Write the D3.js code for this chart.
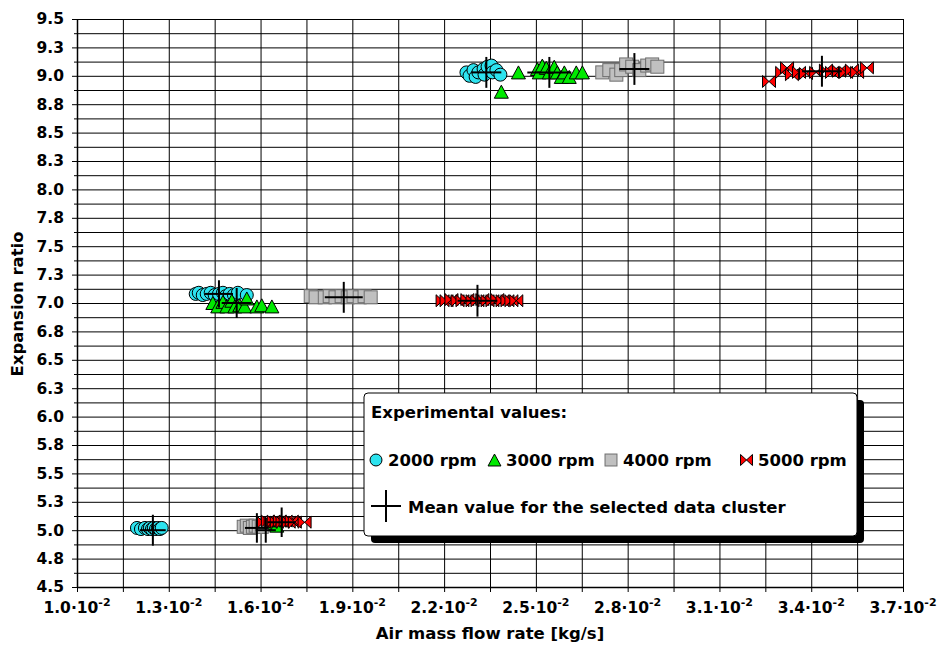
<!DOCTYPE html>
<html>
<head>
<meta charset="utf-8">
<script src="https://cdn.jsdelivr.net/npm/d3@7"></script>
<style>
  html, body { margin: 0; padding: 0; background: #fff; }
  svg { display: block; font-family: "DejaVu Sans", sans-serif; font-weight: bold; }
</style>
</head>
<body>
<svg id="chart" width="938" height="646"></svg>
<script>
// Axis ticks and labels
const xTickValues = [0.010, 0.013, 0.016, 0.019, 0.022, 0.025, 0.028, 0.031, 0.034, 0.037];
const xTickLabels = ["1.0", "1.3", "1.6", "1.9", "2.2", "2.5", "2.8", "3.1", "3.4", "3.7"];
const xTickExponent = "-2";
const yTickValues = [4.5, 4.75, 5.0, 5.25, 5.5, 5.75, 6.0, 6.25, 6.5, 6.75, 7.0, 7.25, 7.5, 7.75, 8.0, 8.25, 8.5, 8.75, 9.0, 9.25, 9.5];
const yTickLabels = ["4.5", "4.8", "5.0", "5.3", "5.5", "5.8", "6.0", "6.3", "6.5", "6.8", "7.0", "7.3", "7.5", "7.8", "8.0", "8.3", "8.5", "8.8", "9.0", "9.3", "9.5"];
const seriesNames = ["2000 rpm", "3000 rpm", "4000 rpm", "5000 rpm"];

// Measured points: [air mass flow rate (kg/s), expansion ratio]
const rpm2000 = [
  [0.01196, 5.02], [0.01209, 5.01], [0.01222, 5.02], [0.01232, 5.01], [0.01238, 5.02], [0.01245, 5.01],
  [0.01251, 5.02], [0.01258, 5.01], [0.01264, 5.02], [0.01271, 5.01], [0.01277, 5.02],
  [0.01388, 7.08], [0.01398, 7.09], [0.01411, 7.07], [0.01424, 7.08], [0.01437, 7.09], [0.01450, 7.07],
  [0.01464, 7.08], [0.01477, 7.09], [0.01486, 7.06], [0.01499, 7.08], [0.01513, 7.07], [0.01526, 7.09], [0.01555, 7.07],
  [0.02273, 9.03], [0.02283, 9.00], [0.02296, 9.05], [0.02303, 8.99], [0.02312, 9.03], [0.02329, 9.06],
  [0.02332, 9.01], [0.02342, 9.08], [0.02355, 9.09], [0.02358, 9.03], [0.02371, 9.05], [0.02384, 9.01]
];
const rpm3000 = [
  [0.01565, 5.03], [0.01584, 5.04], [0.01604, 5.06], [0.01624, 5.06], [0.01643, 5.06], [0.01653, 5.04],
  [0.01444, 7.00], [0.01460, 6.97], [0.01477, 7.01], [0.01490, 6.97], [0.01506, 7.02], [0.01516, 6.97],
  [0.01532, 6.98], [0.01548, 6.97], [0.01555, 7.04], [0.01588, 6.97], [0.01604, 6.98], [0.01637, 6.97],
  [0.02387, 8.86], [0.02443, 9.03], [0.02505, 9.06], [0.02511, 9.03], [0.02521, 9.09], [0.02534, 9.07],
  [0.02544, 9.03], [0.02560, 9.08], [0.02570, 9.03], [0.02583, 8.99], [0.02593, 9.03], [0.02609, 8.99],
  [0.02632, 9.03], [0.02652, 9.03]
];
const rpm4000 = [
  [0.01545, 5.03], [0.01555, 5.04], [0.01565, 5.02], [0.01575, 5.03], [0.01584, 5.04], [0.01594, 5.03], [0.01604, 5.03],
  [0.01764, 7.06], [0.01780, 7.05], [0.01810, 7.05], [0.01826, 7.06], [0.01845, 7.05], [0.01865, 7.06],
  [0.01885, 7.05], [0.01904, 7.06], [0.01924, 7.05], [0.01940, 7.06], [0.01960, 7.05],
  [0.02717, 9.03], [0.02740, 9.05], [0.02763, 9.01], [0.02779, 9.05], [0.02795, 9.10], [0.02815, 9.08],
  [0.02838, 9.05], [0.02864, 9.09], [0.02880, 9.10], [0.02897, 9.08]
];
const rpm5000 = [
  [0.01610, 5.07], [0.01624, 5.08], [0.01633, 5.07], [0.01643, 5.08], [0.01653, 5.07], [0.01663, 5.08],
  [0.01672, 5.07], [0.01682, 5.08], [0.01692, 5.07], [0.01702, 5.08], [0.01712, 5.07], [0.01744, 5.07],
  [0.02195, 7.02], [0.02208, 7.02], [0.02224, 7.03], [0.02244, 7.02], [0.02260, 7.02], [0.02276, 7.03],
  [0.02293, 7.02], [0.02309, 7.02], [0.02325, 7.03], [0.02342, 7.02], [0.02358, 7.02], [0.02374, 7.03],
  [0.02391, 7.02], [0.02407, 7.02], [0.02420, 7.02], [0.02436, 7.02],
  [0.03262, 8.95], [0.03305, 9.03], [0.03321, 9.07], [0.03337, 9.01], [0.03360, 9.03], [0.03383, 9.02],
  [0.03416, 9.03], [0.03448, 9.05], [0.03468, 9.03], [0.03491, 9.04], [0.03514, 9.03], [0.03533, 9.05],
  [0.03550, 9.03], [0.03582, 9.07]
];

// Cluster means: [flow rate, expansion ratio, half spread in flow rate, half spread in ratio]
const means2000 = [[0.01248, 5.00, 0.00042, 0.136], [0.01464, 7.08, 0.00046, 0.120], [0.02338, 9.03, 0.00049, 0.136]];
const means3000 = [[0.01617, 5.00, 0.00033, 0.110], [0.01522, 7.00, 0.00049, 0.132], [0.02544, 9.03, 0.00072, 0.136]];
const means4000 = [[0.01588, 5.02, 0.00039, 0.130], [0.01872, 7.05, 0.00062, 0.136], [0.02822, 9.06, 0.00049, 0.140]];
const means5000 = [[0.01669, 5.07, 0.00046, 0.130], [0.02309, 7.02, 0.00065, 0.140], [0.03435, 9.04, 0.00065, 0.136]];

const svg = d3.select("#chart");
const plot = { left: 77, right: 903, top: 19, bottom: 587 };

const x = d3.scaleLinear()
  .domain([xTickValues[0], xTickValues[xTickValues.length - 1]])
  .range([plot.left, plot.right]);
const y = d3.scaleLinear()
  .domain([yTickValues[0], yTickValues[yTickValues.length - 1]])
  .range([plot.bottom, plot.top]);

// Grid positions: every labelled tick plus the midpoint between neighbours
function withMidpoints(vals) {
  const out = [];
  vals.forEach((v, i) => {
    out.push(v);
    if (i < vals.length - 1) out.push((v + vals[i + 1]) / 2);
  });
  return out;
}
const gridX = withMidpoints(xTickValues);
const gridY = withMidpoints(yTickValues);

// Gridlines
const gx = svg.append("g")
  .attr("transform", `translate(0,${plot.bottom})`)
  .call(d3.axisBottom(x).tickValues(gridX).tickSize(-(plot.bottom - plot.top)).tickFormat(""));
gx.select(".domain").remove();
gx.selectAll("line").attr("stroke", "#000").attr("stroke-width", 1);

const gy = svg.append("g")
  .attr("transform", `translate(${plot.left},0)`)
  .call(d3.axisRight(y).tickValues(gridY).tickSize(plot.right - plot.left).tickFormat(""));
gy.select(".domain").remove();
gy.selectAll("line").attr("stroke", "#000").attr("stroke-width", 1);

// Bottom axis with tick marks
const xAxis = svg.append("g")
  .attr("transform", `translate(0,${plot.bottom})`)
  .call(d3.axisBottom(x).tickValues(gridX).tickSize(5).tickSizeOuter(0).tickFormat(""));
xAxis.select(".domain").attr("stroke", "#000").attr("stroke-width", 1.5);
xAxis.selectAll("line").attr("stroke", "#000");

// Bottom axis labels: mantissa · 10^exponent
const xLabels = svg.append("g")
  .attr("font-size", 15.5)
  .attr("text-anchor", "middle")
  .attr("fill", "#000");
xTickValues.forEach((v, i) => {
  const t = xLabels.append("text").attr("x", x(v)).attr("y", 613);
  t.append("tspan").text(xTickLabels[i] + "\u00B710");
  t.append("tspan").attr("dy", -7).attr("font-size", 11).text(xTickExponent);
});

// Left axis: longer marks on labelled ticks, short marks in between
const labelFor = v => {
  const i = yTickValues.findIndex(t => Math.abs(t - v) < 1e-9);
  return i >= 0 ? yTickLabels[i] : "";
};
const yAxis = svg.append("g")
  .attr("transform", `translate(${plot.left},0)`)
  .call(d3.axisLeft(y).tickValues(gridY).tickSize(5).tickSizeOuter(0).tickPadding(8).tickFormat(labelFor));
yAxis.select(".domain").attr("stroke", "#000").attr("stroke-width", 1.5);
yAxis.selectAll(".tick line")
  .attr("stroke", "#000")
  .attr("x2", d => labelFor(d) ? -5 : -3);
yAxis.selectAll(".tick text")
  .attr("font-family", "DejaVu Sans, sans-serif")
  .attr("font-weight", "bold")
  .attr("font-size", 15.5)
  .attr("fill", "#000");

// Axis titles
svg.append("text")
  .attr("x", 490).attr("y", 639)
  .attr("text-anchor", "middle")
  .attr("font-size", 16.5)
  .text("Air mass flow rate [kg/s]");
svg.append("text")
  .attr("transform", "translate(23,304) rotate(-90)")
  .attr("text-anchor", "middle")
  .attr("font-size", 16.5)
  .text("Expansion ratio");

// Marker shapes (plot size, legend size)
const markerStyles = [
  { fill: "#2de3ef", stroke: "#000", draw: (g, k) => g.append("circle").attr("r", 6.5 * k) },
  { fill: "#00ea00", stroke: "#000", draw: (g, k) => g.append("path").attr("d", `M0,${-6.5 * k}L${7 * k},${6.5 * k}L${-7 * k},${6.5 * k}Z`) },
  { fill: "#c0c0c0", stroke: "#6e6e6e", draw: (g, k) => g.append("rect").attr("x", -6.5 * k).attr("y", -6.5 * k).attr("width", 13 * k).attr("height", 13 * k) },
  { fill: "#ff0000", stroke: "#000", draw: (g, k) => g.append("path").attr("d", `M${-6.5 * k},${-6 * k}L${6.5 * k},${6 * k}L${6.5 * k},${-6 * k}L${-6.5 * k},${6 * k}Z`) }
];

function drawMarker(parent, style, cx, cy, k) {
  const g = parent.append("g").attr("transform", `translate(${cx},${cy})`);
  style.draw(g, k).attr("fill", style.fill).attr("stroke", style.stroke).attr("stroke-width", 1);
}

const seriesData = [rpm2000, rpm3000, rpm4000, rpm5000];
const meansData = [means2000, means3000, means4000, means5000];

const marks = svg.append("g");
seriesData.forEach((pts, s) => {
  const layer = marks.append("g").attr("class", "series-" + s);
  pts.forEach(([vx, vy]) => drawMarker(layer, markerStyles[s], x(vx), y(vy), 1));
});

// Mean crosses for each cluster
const crosses = svg.append("g").attr("stroke", "#000").attr("stroke-width", 2);
meansData.forEach(list => {
  list.forEach(([mx, my, dx, dy]) => {
    crosses.append("line")
      .attr("x1", x(mx - dx)).attr("x2", x(mx + dx))
      .attr("y1", y(my)).attr("y2", y(my));
    crosses.append("line")
      .attr("x1", x(mx)).attr("x2", x(mx))
      .attr("y1", y(my - dy)).attr("y2", y(my + dy));
  });
});

// Legend
const legend = svg.append("g");
legend.append("rect")
  .attr("x", 371).attr("y", 400).attr("width", 493).attr("height", 143)
  .attr("rx", 4).attr("fill", "#000");
legend.append("rect")
  .attr("x", 364).attr("y", 393).attr("width", 493).attr("height", 143)
  .attr("rx", 4).attr("fill", "#fff").attr("stroke", "#000").attr("stroke-width", 1);
legend.append("text")
  .attr("x", 371).attr("y", 418)
  .attr("font-size", 16.5)
  .text("Experimental values:");

const legendMarkerX = [376, 494.5, 611, 746.5];
const legendTextX = [388, 506, 623, 758];
seriesNames.forEach((name, i) => {
  drawMarker(legend, markerStyles[i], legendMarkerX[i], 460, 0.92);
  legend.append("text")
    .attr("x", legendTextX[i]).attr("y", 465.5)
    .attr("font-size", 16.5)
    .text(name);
});

legend.append("line").attr("x1", 371).attr("x2", 401).attr("y1", 506).attr("y2", 506)
  .attr("stroke", "#000").attr("stroke-width", 2);
legend.append("line").attr("x1", 386).attr("x2", 386).attr("y1", 490).attr("y2", 522)
  .attr("stroke", "#000").attr("stroke-width", 2);
legend.append("text")
  .attr("x", 408).attr("y", 513)
  .attr("font-size", 16.5)
  .text("Mean value for the selected data cluster");
</script>
</body>
</html>
